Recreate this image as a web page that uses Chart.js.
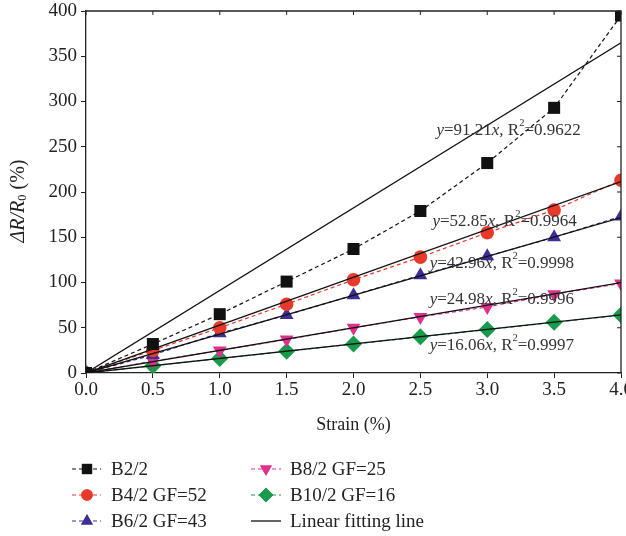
<!DOCTYPE html>
<html>
<head>
<meta charset="utf-8">
<script src="https://cdn.jsdelivr.net/npm/chart.js@4/dist/chart.umd.min.js"></script>
<style>
  html, body { margin: 0; padding: 0; background: #fff; overflow: hidden; }
  #wrap { width: 640px; height: 536px; position: relative; }
</style>
</head>
<body>
<div id="wrap"><canvas id="chart"></canvas></div>
<script>
// Datos
const strain = [0, 0.5, 1.0, 1.5, 2.0, 2.5, 3.0, 3.5, 4.0];
const b2  = [0, 32, 65, 101, 137, 179, 232, 293, 395];
const b4  = [0, 25, 50, 76, 103, 128, 155, 180, 213];
const b6  = [0, 20, 44, 64, 86, 108, 129, 150, 173];
const b8  = [0, 13, 25, 37, 50, 62, 73, 87, 99];
const b10 = [0, 8, 16, 24, 32, 40, 48, 56, 64];

const seriesNames = ['B2/2', 'B4/2 GF=52', 'B6/2 GF=43', 'B8/2 GF=25', 'B10/2 GF=16'];
const fitName = 'Linear fitting line';
const fitX = [0, 4];
const fitEnd = [364.8, 211.4, 171.8, 99.9, 64.2];
const fitSlope = ['91.21', '52.85', '42.96', '24.98', '16.06'];
const fitR2 = ['0.9622', '0.9964', '0.9998', '0.9996', '0.9997'];

const xTitle = 'Strain (%)';

// Estilos
const SERIF = '"Liberation Serif", "DejaVu Serif", serif';
const INK = '#222';
const colors = ['#111111', '#e63a2b', '#3b2f96', '#e0308c', '#1a9a4c'];
const shapes = ['rect', 'circle', 'triangle', 'triangle', 'rectRot'];
const rotations = [0, 0, 0, 180, 0];
const radii = [8.5, 6.8, 8, 8, 8.5];

// Posiciones de las ecuaciones (en unidades de datos)
const eqPos = [[2.62, 268], [2.59, 167], [2.57, 121], [2.57, 81], [2.57, 30]];

const series = [b2, b4, b6, b8, b10];

const datasets = [];
series.forEach((vals, i) => {
    datasets.push({
        label: seriesNames[i],
        data: strain.map((x, j) => ({ x: x, y: vals[j] })),
        borderColor: colors[i],
        backgroundColor: colors[i],
        borderWidth: 1.2,
        borderDash: [4, 3],
        pointStyle: shapes[i],
        pointRotation: rotations[i],
        pointRadius: radii[i],
        pointBorderWidth: 0,
        showLine: true,
        order: 2
    });
});
fitEnd.forEach((end, i) => {
    datasets.push({
        label: fitName,
        data: fitX.map((x, j) => ({ x: x, y: j === 0 ? 0 : end })),
        borderColor: '#111',
        borderWidth: 1.3,
        pointRadius: 0,
        showLine: true,
        order: 1
    });
});

// Texto con partes en cursiva / superíndice / subíndice
function drawRuns(ctx, x, y, runs, size) {
    runs.forEach(r => {
        let s = size, dy = 0;
        if (r.sup) { s = size * 0.62; dy = -size * 0.42; }
        if (r.sub) { s = size * 0.62; dy = size * 0.2; }
        ctx.font = (r.it ? 'italic ' : '') + s + 'px ' + SERIF;
        ctx.fillText(r.t, x, y + dy);
        x += ctx.measureText(r.t).width;
    });
}

const decorPlugin = {
    id: 'decor',
    afterDraw(chart) {
        const ctx = chart.ctx;
        const a = chart.chartArea;
        const sx = chart.scales.x, sy = chart.scales.y;
        ctx.save();

        // Marco superior y derecho con marcas hacia dentro
        ctx.strokeStyle = INK;
        ctx.lineWidth = 1.3;
        ctx.beginPath();
        ctx.moveTo(a.left, a.top); ctx.lineTo(a.right, a.top); ctx.lineTo(a.right, a.bottom);
        ctx.stroke();
        ctx.lineWidth = 1;
        ctx.beginPath();
        sx.ticks.forEach(t => {
            const px = sx.getPixelForValue(t.value);
            ctx.moveTo(px, a.top); ctx.lineTo(px, a.top + 4);
        });
        sy.ticks.forEach(t => {
            const py = sy.getPixelForValue(t.value);
            ctx.moveTo(a.right, py); ctx.lineTo(a.right - 4, py);
        });
        ctx.stroke();

        // Ecuaciones de ajuste
        ctx.fillStyle = '#333';
        ctx.textBaseline = 'middle';
        ctx.textAlign = 'left';
        eqPos.forEach((p, i) => {
            drawRuns(ctx, sx.getPixelForValue(p[0]), sy.getPixelForValue(p[1]), [
                { t: 'y', it: true }, { t: '=' + fitSlope[i] }, { t: 'x', it: true },
                { t: ', R' }, { t: '2', sup: true }, { t: '=' + fitR2[i] }
            ], 17);
        });

        // Título del eje Y
        ctx.save();
        ctx.translate(19, 201);
        ctx.rotate(-Math.PI / 2);
        ctx.fillStyle = INK;
        const runs = [{ t: 'ΔR/R', it: true }, { t: '0', sub: true }, { t: ' (%)' }];
        let w = 0;
        runs.forEach(r => {
            const s = (r.sub ? 20 * 0.62 : 20);
            ctx.font = (r.it ? 'italic ' : '') + s + 'px ' + SERIF;
            w += ctx.measureText(r.t).width;
        });
        drawRuns(ctx, -w / 2, 0, runs, 20);
        ctx.restore();

        // Leyenda
        const rows = [469, 495, 521];
        const cols = [{ l: 72, r: 101, m: 87, t: 111 }, { l: 251, r: 281, m: 266, t: 290 }];
        const items = [0, 1, 2, 3, 4, -1];
        items.forEach((si, k) => {
            const c = cols[k < 3 ? 0 : 1];
            const y = rows[k % 3];
            ctx.save();
            if (si >= 0) {
                ctx.strokeStyle = colors[si];
                ctx.lineWidth = 1.2;
                ctx.setLineDash([4, 3]);
            } else {
                ctx.strokeStyle = '#111';
                ctx.lineWidth = 1.3;
            }
            ctx.beginPath();
            ctx.moveTo(c.l, y); ctx.lineTo(c.r, y);
            ctx.stroke();
            ctx.restore();
            if (si >= 0) {
                ctx.fillStyle = colors[si];
                Chart.helpers.drawPoint(ctx, {
                    pointStyle: shapes[si], rotation: rotations[si],
                    radius: radii[si] * 0.85, borderWidth: 0
                }, c.m, y);
                ctx.fill();
            }
            ctx.fillStyle = INK;
            ctx.font = '19px ' + SERIF;
            ctx.textBaseline = 'middle';
            ctx.fillText(si >= 0 ? seriesNames[si] : fitName, c.t, y + 1);
        });
        ctx.restore();
    }
};

new Chart(document.getElementById('chart'), {
    type: 'scatter',
    data: { datasets: datasets },
    plugins: [decorPlugin],
    options: {
        responsive: true,
        maintainAspectRatio: false,
        animation: false,
        layout: { padding: { left: 30, top: 11, right: 19, bottom: 100 } },
        plugins: { legend: { display: false }, tooltip: { enabled: false } },
        scales: {
            x: {
                type: 'linear',
                min: 0, max: 4,
                afterFit(s) { s.height = 63; s.paddingLeft = 0; s.paddingRight = 0; },
                ticks: {
                    stepSize: 0.5,
                    color: INK,
                    font: { family: SERIF, size: 19 },
                    padding: 1,
                    maxRotation: 0,
                    callback: v => v.toFixed(1)
                },
                grid: { drawOnChartArea: false, tickLength: 5, color: INK, lineWidth: 1 },
                border: { color: INK, width: 1.3 },
                title: { display: true, text: xTitle, color: INK, font: { family: SERIF, size: 18 }, padding: { top: 5, bottom: 0 } }
            },
            y: {
                min: 0, max: 400,
                afterFit(s) { s.width = 56; s.paddingTop = 0; s.paddingBottom = 0; },
                ticks: {
                    stepSize: 50,
                    color: INK,
                    font: { family: SERIF, size: 19 },
                    padding: 4
                },
                grid: { drawOnChartArea: false, tickLength: 5, color: INK, lineWidth: 1 },
                border: { color: INK, width: 1.3 }
            }
        }
    }
});
</script>
</body>
</html>
